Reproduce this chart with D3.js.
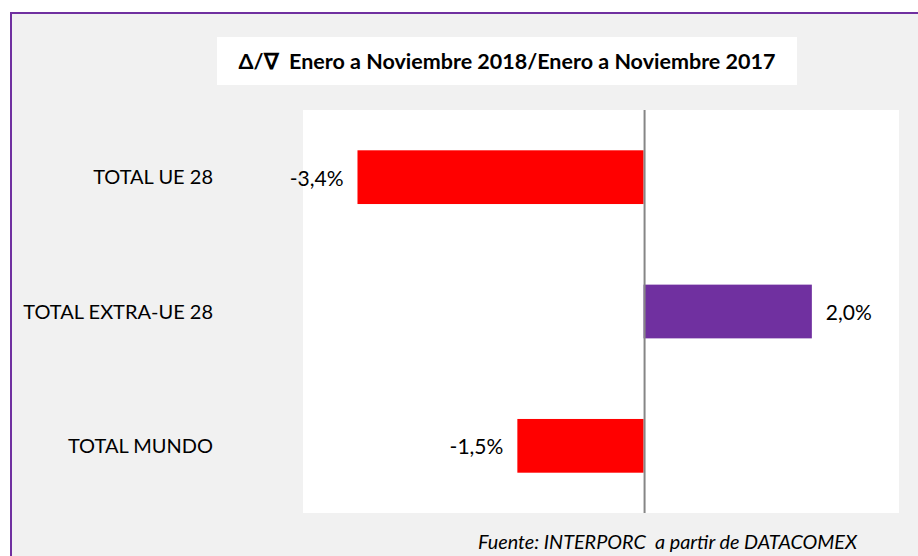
<!DOCTYPE html>
<html>
<head>
<meta charset="utf-8">
<script src="https://cdn.jsdelivr.net/npm/d3@7"></script>
<style>
  html, body { margin: 0; padding: 0; background: #ffffff; }
  svg { display: block; }
  text { white-space: pre; }
</style>
</head>
<body>
<script>
// Variación interanual de exportaciones, enero-noviembre 2018 vs 2017
const categories = ["TOTAL UE 28", "TOTAL EXTRA-UE 28", "TOTAL MUNDO"];
const values = [-3.4, 2.0, -1.5];
const valueLabels = ["-3,4%", "2,0%", "-1,5%"];
const barColors = ["#ff0000", "#7030a0", "#ff0000"];
const titleText = "\u0394/\u2207  Enero a Noviembre 2018/Enero a Noviembre 2017";
const sourceText = "Fuente: INTERPORC  a partir de DATACOMEX";

const W = 918, H = 556;
const font = "Lato, 'Open Sans', sans-serif";

const svg = d3.select("body").append("svg")
  .attr("width", W).attr("height", H);

// Marco del gráfico
svg.append("rect")
  .attr("x", 11).attr("y", 13)
  .attr("width", W + 10).attr("height", H + 10)
  .attr("fill", "#f1f1f1")
  .attr("stroke", "#7030a0").attr("stroke-width", 2);

// Caja del título
svg.append("rect")
  .attr("x", 217).attr("y", 37).attr("width", 580).attr("height", 48)
  .attr("fill", "#ffffff");
svg.append("text")
  .attr("x", 507).attr("y", 69)
  .attr("text-anchor", "middle")
  .attr("font-family", font).attr("font-weight", "bold")
  .attr("font-size", 21.5).attr("fill", "#000")
  .text(titleText);

// Área de trazado
const plot = { left: 303, right: 899, top: 110, bottom: 513 };
svg.append("rect")
  .attr("x", plot.left).attr("y", plot.top)
  .attr("width", plot.right - plot.left).attr("height", plot.bottom - plot.top)
  .attr("fill", "#ffffff");

const x = d3.scaleLinear().domain([-4, 3]).range([307, 896]);
const y = d3.scaleBand().domain(categories)
  .range([plot.top, plot.bottom]).paddingInner(0.6).paddingOuter(0.3);

const data = categories.map((c, i) => ({ c, v: values[i], label: valueLabels[i], color: barColors[i] }));

svg.append("g").selectAll("rect").data(data).join("rect")
  .attr("x", d => x(Math.min(0, d.v)))
  .attr("width", d => Math.abs(x(d.v) - x(0)))
  .attr("y", d => y(d.c))
  .attr("height", y.bandwidth())
  .attr("fill", d => d.color);

// Eje vertical en cero
svg.append("line")
  .attr("x1", x(0) + 1).attr("x2", x(0) + 1)
  .attr("y1", plot.top).attr("y2", plot.bottom)
  .attr("stroke", "#868686").attr("stroke-width", 2);

// Etiquetas de categoría
svg.append("g").selectAll("text").data(data).join("text")
  .attr("x", 213)
  .attr("y", d => y(d.c) + y.bandwidth() / 2)
  .attr("dy", "0.35em")
  .attr("text-anchor", "end")
  .attr("font-family", font).attr("font-size", 20).attr("fill", "#000")
  .text(d => d.c);

// Etiquetas de valor
svg.append("g").selectAll("text").data(data).join("text")
  .attr("x", d => d.v < 0 ? x(d.v) - 14 : x(d.v) + 14)
  .attr("y", d => y(d.c) + y.bandwidth() / 2 + 1)
  .attr("dy", "0.35em")
  .attr("text-anchor", d => d.v < 0 ? "end" : "start")
  .attr("font-family", font).attr("font-size", 21).attr("fill", "#000")
  .text(d => d.label);

// Fuente
svg.append("text")
  .attr("x", 857).attr("y", 549)
  .attr("text-anchor", "end")
  .attr("font-family", font).attr("font-style", "italic")
  .attr("font-size", 19.8).attr("fill", "#000")
  .text(sourceText);
</script>
</body>
</html>
